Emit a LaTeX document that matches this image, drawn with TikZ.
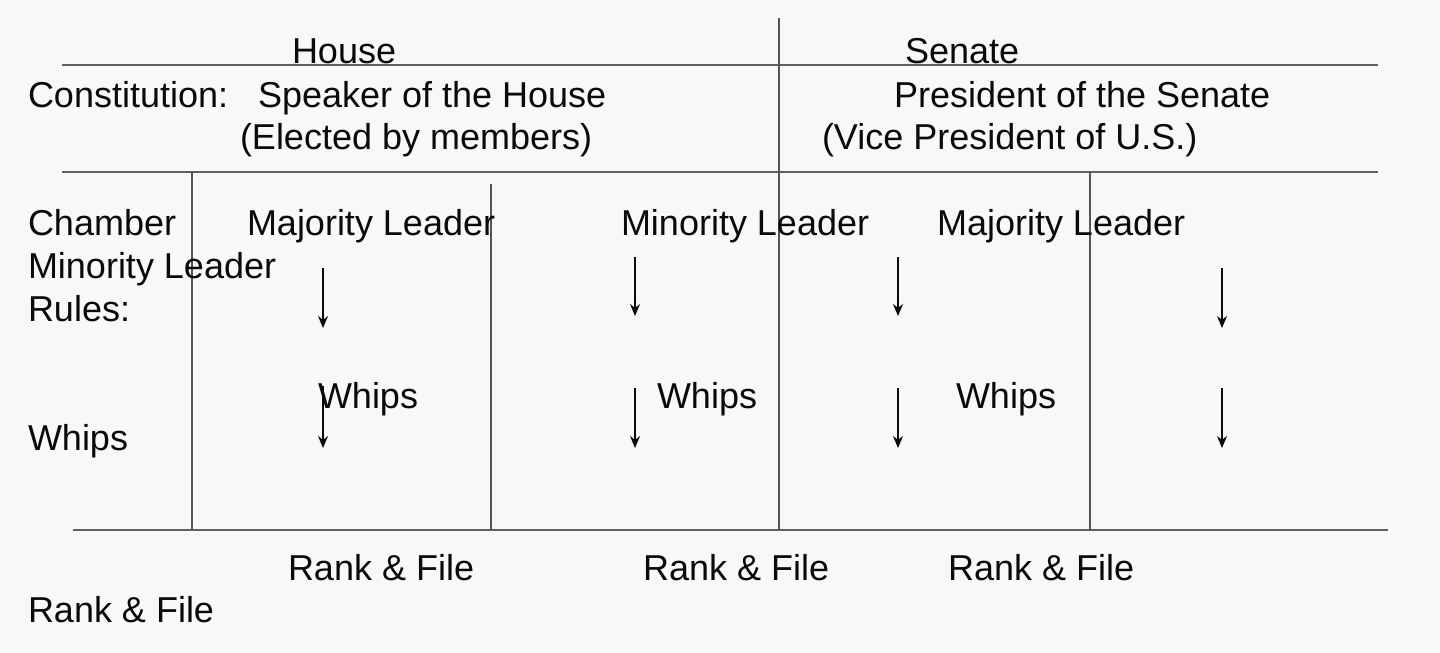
\documentclass[tikz,border=0pt]{standalone}
\usepackage{fontspec}
\setmainfont{Liberation Sans}
\usetikzlibrary{arrows.meta}
\definecolor{bg}{HTML}{F8F8F8}
\definecolor{rule}{HTML}{606060}
\definecolor{vrule}{HTML}{555555}
\definecolor{ink}{HTML}{0A0A0A}
\begin{document}
\begin{tikzpicture}[x=0.5pt,y=-0.5pt,
  lbl/.style={anchor=base west,inner sep=0pt,outer sep=0pt,text=ink,font=\fontsize{18}{20}\selectfont},
  hline/.style={draw=rule,line width=1.4pt},
  vline/.style={draw=vrule,line width=0.9pt},
  arr/.style={draw=ink,line width=0.6pt,-{Stealth[length=6pt,width=5pt]}}]
\fill[bg] (0,0) rectangle (1440,653);
\useasboundingbox (0,0) rectangle (1440,653);
% rules
\coordinate (h1a) at (62,65); \coordinate (h1b) at (1378,65);
\coordinate (h2a) at (62,172); \coordinate (h2b) at (1378,172);
\coordinate (h3a) at (73,530); \coordinate (h3b) at (1388,530);
\draw[hline] (h1a) -- (h1b);
\draw[hline] (h2a) -- (h2b);
\draw[hline] (h3a) -- (h3b);
\coordinate (v0a) at (779,18); \coordinate (v0b) at (779,530);
\coordinate (v1a) at (192,172); \coordinate (v1b) at (192,530);
\coordinate (v2a) at (491,184); \coordinate (v2b) at (491,530);
\coordinate (v3a) at (1090,172); \coordinate (v3b) at (1090,530);
\draw[vline] (v0a) -- (v0b);
\draw[vline] (v1a) -- (v1b);
\draw[vline] (v2a) -- (v2b);
\draw[vline] (v3a) -- (v3b);
% texts
\node[lbl] (house) at (292,63) {House};
\node[lbl] (senate) at (905,63) {Senate};
\node[lbl] (const) at (28,107) {Constitution:};
\node[lbl] (speaker) at (258,107) {Speaker of the House};
\node[lbl] (pres) at (894,107) {President of the Senate};
\node[lbl] (elected) at (240,149) {(Elected by members)};
\node[lbl] (vice) at (822,149) {(Vice President of U.S.)};
\node[lbl] (chamber) at (28,235) {Chamber};
\node[lbl] (majh) at (247,235) {Majority Leader};
\node[lbl] (minh) at (621,235) {Minority Leader};
\node[lbl] (majs) at (937,235) {Majority Leader};
\node[lbl] (minl) at (28,278) {Minority Leader};
\node[lbl] (rules) at (28,321) {Rules:};
\node[lbl] (wh1) at (318,408) {Whips};
\node[lbl] (wh2) at (657,408) {Whips};
\node[lbl] (wh3) at (956,408) {Whips};
\node[lbl] (whl) at (28,450) {Whips};
\node[lbl] (rf1) at (288,580) {Rank \& File};
\node[lbl] (rf2) at (643,580) {Rank \& File};
\node[lbl] (rf3) at (948,580) {Rank \& File};
\node[lbl] (rfl) at (28,622) {Rank \& File};
% arrows
\coordinate (a1s) at (323,268); \coordinate (a1e) at (323,328);
\coordinate (a2s) at (635,257); \coordinate (a2e) at (635,316);
\coordinate (a3s) at (898,257); \coordinate (a3e) at (898,316);
\coordinate (a4s) at (1222,268); \coordinate (a4e) at (1222,328);
\coordinate (b1s) at (323,386); \coordinate (b1e) at (323,448);
\coordinate (b2s) at (635,388); \coordinate (b2e) at (635,448);
\coordinate (b3s) at (898,388); \coordinate (b3e) at (898,448);
\coordinate (b4s) at (1222,388); \coordinate (b4e) at (1222,448);
\foreach \p in {a1,a2,a3,a4,b1,b2,b3,b4}{\draw[arr] (\p s) -- (\p e);}
\end{tikzpicture}
\end{document}
